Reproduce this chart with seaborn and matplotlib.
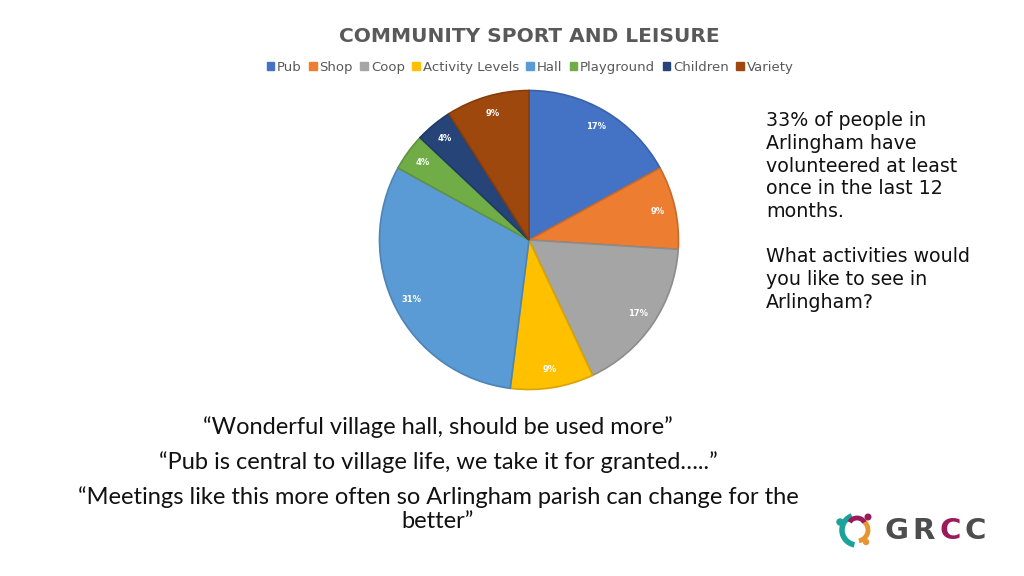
import matplotlib
matplotlib.use("Agg")
import matplotlib.pyplot as plt
from matplotlib.patches import Patch, Arc, Circle
import seaborn as sns

categories = ["Pub", "Shop", "Coop", "Activity Levels", "Hall", "Playground", "Children", "Variety"]
values = [17, 9, 17, 9, 31, 4, 4, 9]
colors = ["#4472C4", "#ED7D31", "#A5A5A5", "#FFC000", "#5B9BD5", "#70AD47", "#264478", "#9E480E"]
edge_colors = ["#3A62A8", "#C86A29", "#8C8C8C", "#D9A400", "#4D84B5", "#5F933C", "#203A66", "#863D0C"]

title = "COMMUNITY SPORT AND LEISURE"
side_text = ("33% of people in\nArlingham have\nvolunteered at least\nonce in the last 12\nmonths.\n\n"
             "What activities would\nyou like to see in\nArlingham?")
quotes = ["\u201cWonderful village hall, should be used more\u201d",
          "\u201cPub is central to village life, we take it for granted\u2026..\u201d",
          "\u201cMeetings like this more often so Arlingham parish can change for the",
          "better\u201d"]

sns.set_theme(style="white")
plt.rcParams['font.family'] = ['DejaVu Sans']

W, H = 1024, 576
fig = plt.figure(figsize=(W / 100, H / 100), dpi=100)
fig.patch.set_facecolor("white")

# pie axes
cx, cy, r = 529, 240, 151
ax = fig.add_axes([(cx - r) / W, (H - cy - r) / H, 2 * r / W, 2 * r / H])
wedges, texts = ax.pie(values, colors=colors, startangle=90, counterclock=False,
                       labels=[f"{v}%" for v in values], labeldistance=0.88,
                       wedgeprops=dict(linewidth=1.2),
                       textprops=dict(color="white", fontsize=6, fontweight="bold"))
for w, ec in zip(wedges, edge_colors):
    w.set_edgecolor(ec)
for t in texts:
    t.set_ha("center")
    t.set_va("center")
ax.set_xlim(-1.01, 1.01)
ax.set_ylim(-1.01, 1.01)
ax.set_aspect("equal")
ax.axis("off")

# title
fig.text(529 / W, 1 - 37 / H, title, ha="center", va="center", fontsize=14.5,
         fontweight="bold", color="#595959")

# legend
handles = [Patch(facecolor=c, edgecolor=c) for c in colors]
fig.legend(handles, categories, loc="center", bbox_to_anchor=(530 / W, 1 - 67 / H),
           ncol=8, frameon=False, fontsize=9.5, handlelength=0.6, handleheight=0.6,
           handletextpad=0.2, columnspacing=0.55, labelcolor="#595959")

# side text
fig.text(766 / W, 1 - 111 / H, side_text, ha="left", va="top", fontsize=13.7,
         color="#111111", linespacing=1.25)

# quotes
qy = [427, 462, 497, 522]
for q, y in zip(quotes, qy):
    fig.text(438 / W, 1 - y / H, q, ha="center", va="center", fontsize=17,
             color="#111111", family=["Lato", "DejaVu Sans"])

# logo
lax = fig.add_axes([830 / W, 1 - 555 / H, 170 / W, 50 / H])
lax.set_xlim(0, 170)
lax.set_ylim(0, 50)
lax.axis("off")
lax.add_patch(Arc((27, 25), 30, 30, theta1=110, theta2=260, color="#1AA39A", lw=4))
lax.add_patch(Arc((27, 25), 22, 22, theta1=-80, theta2=60, color="#E8952F", lw=3.5))
lax.add_patch(Arc((27, 30), 16, 14, theta1=20, theta2=160, color="#9B1B5A", lw=3.5))
lax.add_patch(Circle((10, 33), 3, color="#1AA39A"))
lax.add_patch(Circle((38, 38), 2.8, color="#9B1B5A"))
lax.add_patch(Circle((36, 13), 2.5, color="#E8952F"))
letters = [("G", "#4D4D4D"), ("R", "#4D4D4D"), ("C", "#9B1B5A"), ("C", "#4D4D4D")]
xs = [67, 94, 120, 145]
for (ch, col), x in zip(letters, xs):
    lax.text(x, 24, ch, ha="center", va="center", fontsize=21, fontweight="bold",
             color=col, family=["DejaVu Sans"])

fig.savefig("out.png", dpi=100)
